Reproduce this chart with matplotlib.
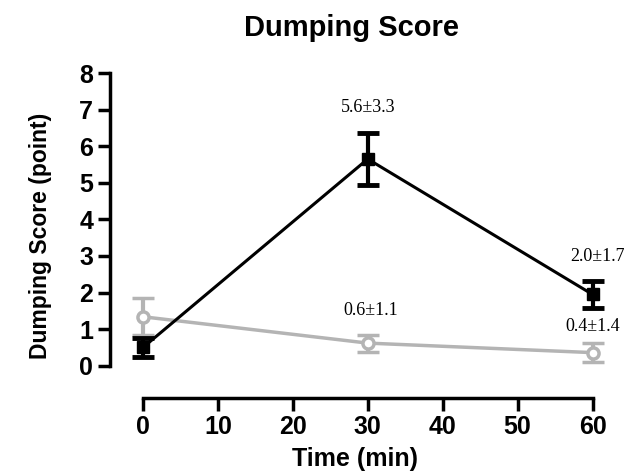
import matplotlib

matplotlib.use("Agg")
from matplotlib import pyplot as plt

times = [0, 30, 60]
black_mean = [0.5, 5.65, 1.95]
black_err = [0.27, 0.72, 0.38]
gray_mean = [1.34, 0.62, 0.36]
gray_err = [0.5, 0.23, 0.27]

black_labels = ["5.6±3.3", "2.0±1.7"]
black_label_pos = [(30, 7.07), (60.7, 2.99)]
gray_labels = ["0.6±1.1", "0.4±1.4"]
gray_label_pos = [(30.4, 1.5), (60, 1.07)]

plt.rcParams['font.family'] = ['Liberation Sans', 'DejaVu Sans']

fig = plt.figure(figsize=(6.27, 4.73), dpi=100)
ax = fig.add_axes([110 / 627, 75 / 473, (600 - 110) / 627, (473 - 75 - 73) / 473])

gray = '#b4b4b4'
ax.errorbar(times, gray_mean, yerr=gray_err, color=gray, lw=2.5, marker='o',
            ms=8, mfc='white', mec=gray, mew=2.5, capsize=8, capthick=3.5,
            elinewidth=3, clip_on=False, zorder=2)
ax.errorbar(times, black_mean, yerr=black_err, color='black', lw=2.2, marker='s',
            ms=9, capsize=8, capthick=3.5, elinewidth=3, clip_on=False, zorder=3)

for txt, (x, y) in zip(black_labels + gray_labels, black_label_pos + gray_label_pos):
    ax.text(x, y, txt, ha='center', va='center', fontsize=13,
            family=['Liberation Serif', 'DejaVu Serif'])

ax.set_xlim(-4.4, 61)
ax.set_ylim(-0.88, 8.0)
ax.spines['top'].set_visible(False)
ax.spines['right'].set_visible(False)
ax.spines['left'].set_bounds(0, 8)
ax.spines['bottom'].set_bounds(0, 60)
for s in ['left', 'bottom']:
    ax.spines[s].set_linewidth(2.5)
ax.set_xticks(range(0, 61, 10))
ax.set_yticks(range(0, 9))
ax.tick_params(width=2.5, length=9, labelsize=18, pad=3)
for lbl in ax.get_xticklabels() + ax.get_yticklabels():
    lbl.set_fontweight('bold')

ax.set_xlabel("Time (min)", fontsize=18, fontweight='bold', labelpad=6)
ax.set_ylabel("Dumping Score (point)", fontsize=16.5, fontweight='bold', labelpad=20)
fig.text(352 / 627, 1 - 28 / 473, "Dumping Score", ha='center', va='center',
         fontsize=21, fontweight='bold')

fig.savefig("out.png", dpi=100)
